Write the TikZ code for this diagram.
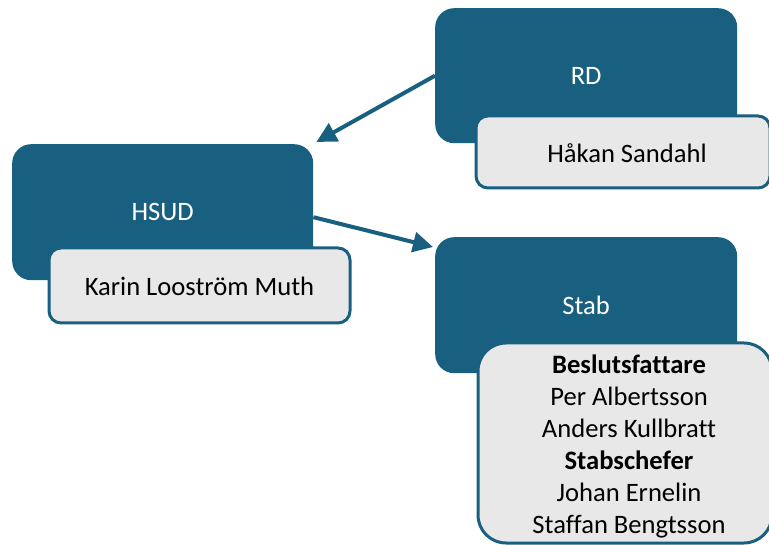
\documentclass[tikz,border=0pt]{standalone}
\usepackage{fontspec}
\setmainfont[Ligatures={NoCommon}]{Carlito}
\usetikzlibrary{arrows.meta,calc}
\definecolor{navy}{RGB}{24,95,128}
\definecolor{lightg}{RGB}{232,232,232}
\begin{document}
\begin{tikzpicture}[x=1pt,y=-1pt,
  darkbox/.style={fill=navy, rounded corners=19pt, inner sep=0pt, anchor=north west, text=white},
  namebox/.style={fill=lightg, draw=navy, line width=3pt, rounded corners=12pt, anchor=north west, inner sep=0pt},
  nametext/.style={text=black, inner sep=0pt, align=center},
  conn/.style={draw=navy, line width=4pt, -{Triangle[length=20pt,width=20pt]}},
  font=\fontsize{26.6}{32}\selectfont]
\useasboundingbox (0,0) rectangle (769,545);
\clip (0,0) rectangle (769,545);
% dark boxes
\node[darkbox, minimum width=302pt, minimum height=135pt] (RD) at (435,8) {RD};
\node[darkbox, minimum width=301pt, minimum height=136pt] (HSUD) at (12,144) {HSUD};
\node[darkbox, minimum width=302pt, minimum height=136pt] (Stab) at (435,237) {Stab};
% name boxes
\node[namebox, minimum width=294pt, minimum height=72pt] (hakan) at (474.5,114.5) {};
\node[nametext] (hakant) at ($(hakan.center)+(4,1)$) {Håkan Sandahl};
\node[namebox, minimum width=301pt, minimum height=75pt] (karin) at (47.5,246.5) {};
\node[nametext] (karint) at ($(karin.center)+(0,1)$) {Karin Looström Muth};
\node[namebox, rounded corners=28pt, minimum width=294pt, minimum height=200pt] (stabnames) at (476.5,341.5) {};
\node[nametext] (stabt) at ($(stabnames.center)+(4,3)$)
  {\textbf{Beslutsfattare}\\Per Albertsson\\Anders Kullbratt\\\textbf{Stabschefer}\\Johan Ernelin\\Staffan Bengtsson};
% connectors
\coordinate (tipH) at ($(HSUD.north east)+(3,-2)$);
\coordinate (fromH) at ($(HSUD.east)+(0,5)$);
\coordinate (tipS) at ($(Stab.north west)+(-2,10)$);
\draw[conn] (RD.west) -- (tipH);
\draw[conn] (fromH) -- (tipS);
\end{tikzpicture}
\end{document}
